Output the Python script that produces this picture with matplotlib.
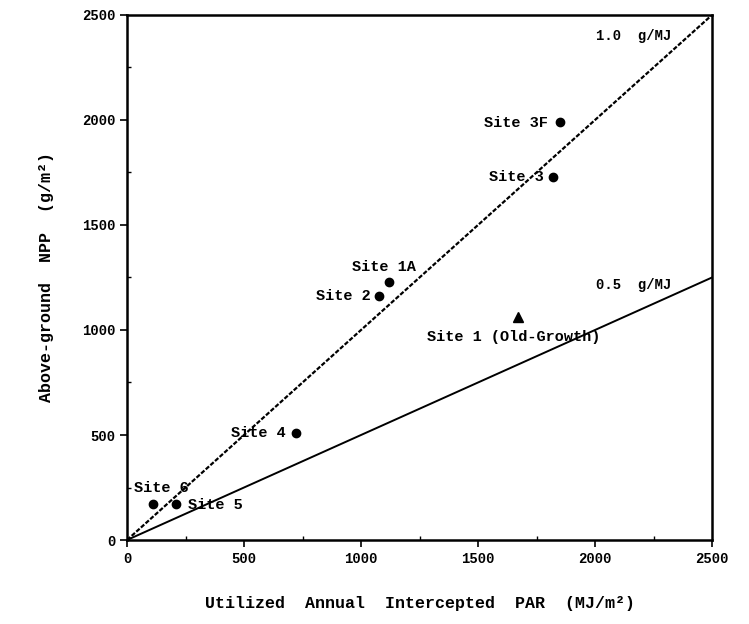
import matplotlib.pyplot as plt
import numpy as np

plt.rcParams['font.family'] = ['Liberation Mono', 'DejaVu Sans Mono']
plt.rcParams['font.weight'] = 'bold'
plt.rcParams['axes.labelweight'] = 'bold'

# site data: intercepted PAR (MJ/m2) and above-ground NPP (g/m2)
sites = ['Site 3F', 'Site 3', 'Site 1A', 'Site 2', 'Site 4', 'Site 6', 'Site 5']
par = [1850, 1820, 1120, 1075, 720, 110, 210]
npp = [1990, 1730, 1230, 1160, 510, 170, 170]
old_name = 'Site 1 (Old-Growth)'
old_par = [1670]
old_npp = [1060]
slopes = [1.0, 0.5]
xticks = [0, 500, 1000, 1500, 2000, 2500]

fig = plt.figure(figsize=(7.49, 6.24), dpi=100)
ax = fig.add_axes([0.1696, 0.1346, 0.7810, 0.8414])

xl = np.array([0, 2500])
ax.plot(xl, slopes[0] * xl, color='black', lw=1.6, ls=(0, (2, 0.8)))
ax.plot(xl, slopes[1] * xl, color='black', lw=1.4)

ax.plot(par, npp, 'o', color='black', ms=6)
ax.plot(old_par, old_npp, '^', color='black', ms=7)

fs = 11
ax.text(1800, 1985, sites[0], ha='right', va='center', fontsize=fs)
ax.text(1780, 1730, sites[1], ha='right', va='center', fontsize=fs)
ax.text(1100, 1300, sites[2], ha='center', va='center', fontsize=fs)
ax.text(1040, 1160, sites[3], ha='right', va='center', fontsize=fs)
ax.text(1280, 965, old_name, ha='left', va='center', fontsize=fs)
ax.text(680, 510, sites[4], ha='right', va='center', fontsize=fs)
ax.text(30, 250, sites[5], ha='left', va='center', fontsize=fs)
ax.text(260, 165, sites[6], ha='left', va='center', fontsize=fs)

ax.text(2005, 2400, '1.0  g/MJ', fontsize=10, va='center')
ax.text(2005, 1215, '0.5  g/MJ', fontsize=10, va='center')

ax.set_xlim(0, 2500)
ax.set_ylim(0, 2500)
ax.set_xticks(xticks)
ax.set_yticks(xticks)
ax.set_xticks(np.arange(250, 2500, 500), minor=True)
ax.set_yticks(np.arange(250, 2500, 500), minor=True)
ax.tick_params(which='major', direction='out', length=5, width=1.2, labelsize=10)
ax.tick_params(which='minor', direction='in', length=3, width=1)
for s in ax.spines.values():
    s.set_linewidth(1.8)

ax.set_xlabel('Utilized  Annual  Intercepted  PAR  (MJ/m²)', fontsize=12, labelpad=22)
ax.set_ylabel('Above-ground  NPP  (g/m²)', fontsize=12, labelpad=20)

fig.savefig('out.png', dpi=100)
